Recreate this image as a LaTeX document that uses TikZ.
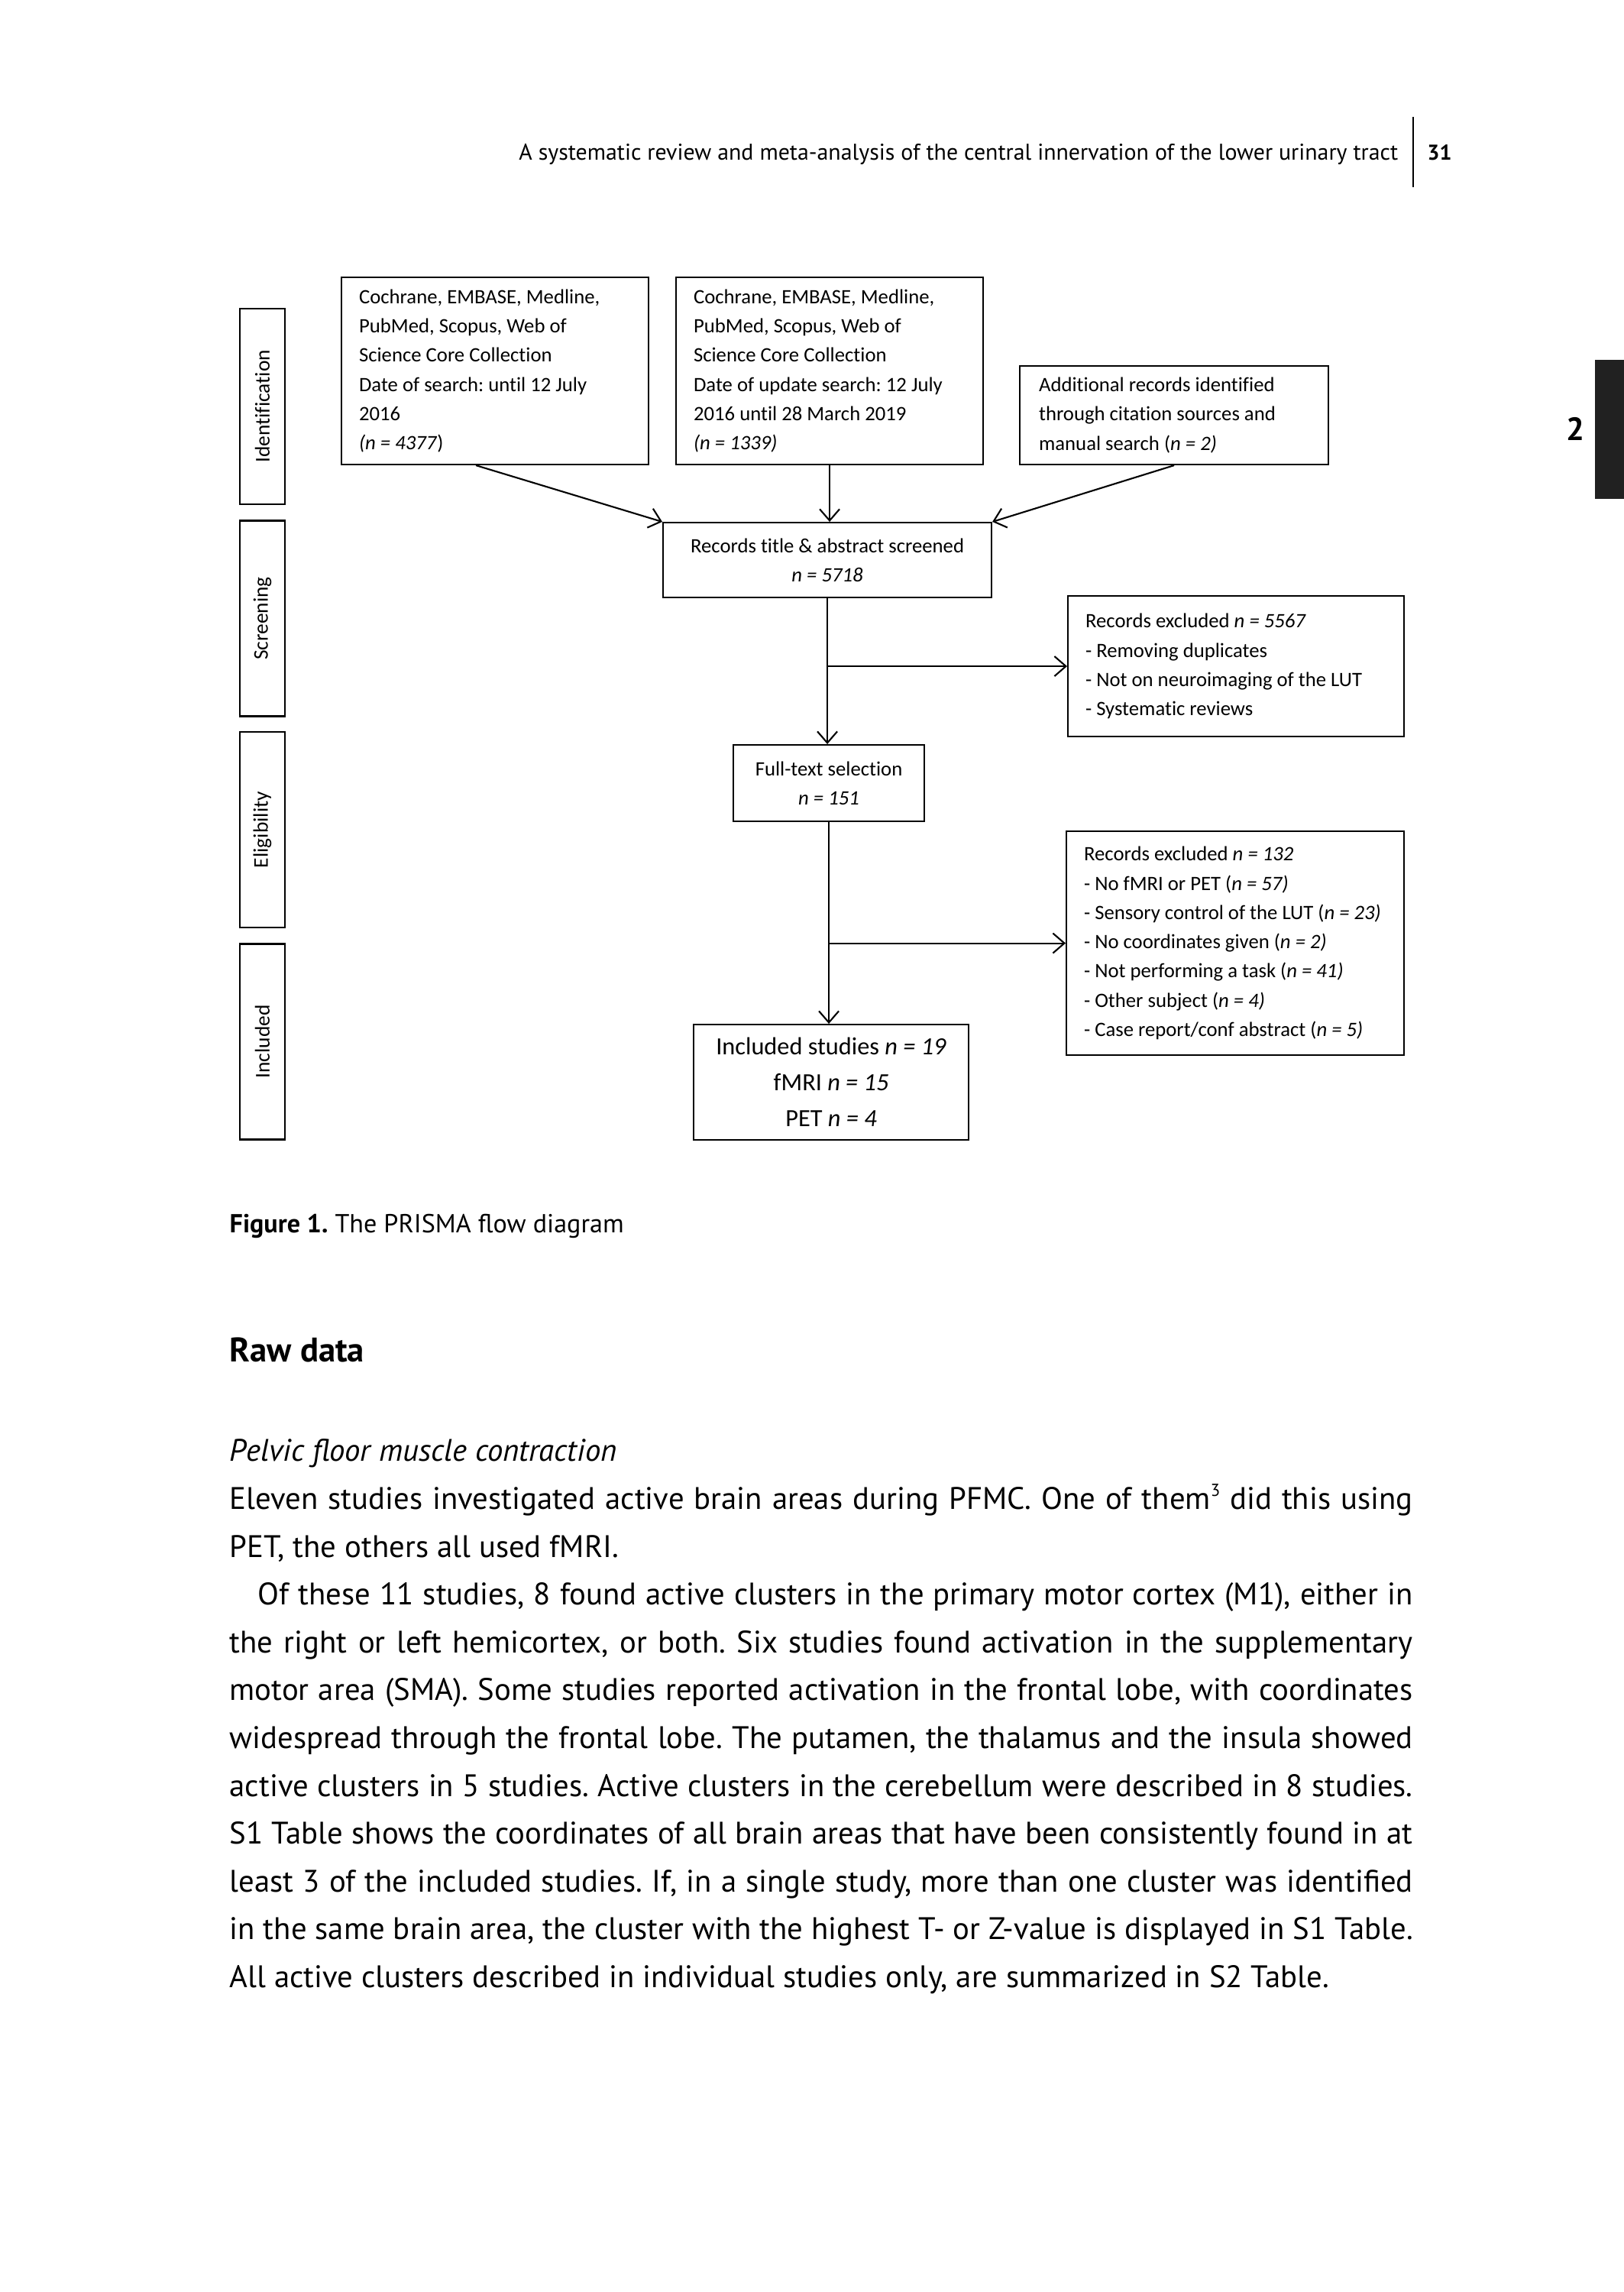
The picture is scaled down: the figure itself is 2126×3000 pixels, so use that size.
\documentclass[tikz,border=0pt]{standalone}
\usepackage{fontspec}
\setmainfont{PT Sans}
\newfontfamily\boxfont[Ligatures=NoCommon]{Carlito}
\usetikzlibrary{positioning, arrows.meta}
\newcommand{\fillline}[2][154.9mm]{\makebox[#1][s]{#2}}
\newcommand{\supnum}[1]{\raisebox{0.8ex}{\fontsize{6.5pt}{7pt}\selectfont #1}}
\frenchspacing

\begin{document}
\begin{tikzpicture}[
        x=0.1mm, y=-0.1mm,
        box/.style={draw, line width=0.6pt, inner ysep=0pt, inner xsep=2.3mm, font=\boxfont\fontsize{7.6pt}{3.83mm}\selectfont},
        lbox/.style={box, align=left, anchor=north west, execute at begin node={\spaceskip=0pt\xspaceskip=0pt}},
        cbox/.style={box, align=center, anchor=north west},
        stage/.style={draw, line width=0.6pt, rotate=90, minimum width=25.6mm, minimum height=5.9mm, inner sep=0pt, font=\boxfont\fontsize{7.8pt}{9pt}\selectfont},
        arr/.style={-{Straight Barb[length=1.5mm, width=2.6mm]}, line width=0.6pt},
        body/.style={anchor=base west, inner sep=0pt, font=\fontsize{11.6pt}{13pt}\selectfont}
    ]
    \fill[white] (0,0) rectangle (2126,3000);
    \useasboundingbox (0,0) rectangle (2126,3000);

    % Running head
    \node[anchor=base east, inner sep=0pt, font=\fontsize{8.5pt}{10pt}\selectfont] (head) at (1831,210) {A systematic review and meta-analysis of the central innervation of the lower urinary tract};
    \node[anchor=base west, inner sep=0pt, font=\bfseries\fontsize{8pt}{10pt}\selectfont] (page) at (1868,210) {31};
    \draw[line width=0.4pt] (1850,153) coordinate (rule top) -- (1850,245) coordinate (rule bottom);
    \fill[black!87] (2088,471) rectangle (2126,653);
    \node[anchor=base east, inner sep=0pt, font=\bfseries\fontsize{12pt}{14pt}\selectfont] (chapter) at (2075,577) {2};

    % Stages
    \node[stage] (ident) at (343.5,532) {Identification};
    \node[stage] (screen) at (343.5,809.5) {Screening};
    \node[stage] (elig) at (343.5,1086) {Eligibility};
    \node[stage] (incl) at (343.5,1363.5) {Included};

    % Identification
    \node[lbox, text width=35.6mm, minimum height=24.5mm] (db1) at (446,362) {Cochrane, EMBASE, Medline,\\PubMed, Scopus, Web of\\Science Core Collection\\Date of search: until 12 July\\2016\\\textit{(n = 4377})};
    \node[lbox, text width=35.6mm, minimum height=24.5mm] (db2) at (884,362) {Cochrane, EMBASE, Medline,\\PubMed, Scopus, Web of\\Science Core Collection\\Date of update search: 12 July\\2016 until 28 March 2019\\\textit{(n = 1339)}};
    \node[lbox, inner xsep=2.5mm, text width=35.4mm, minimum height=12.9mm] (extra) at (1334,478) {Additional records identified\\through citation sources and\\manual search (\textit{n = 2)}};

    % Screening
    \node[cbox, minimum width=43mm, minimum height=9.8mm] (screened) at (867,683) {Records title \& abstract screened\\\textit{n = 5718}};
    \node[lbox, text width=39.4mm, minimum height=18.4mm] (excl1) at (1397,779) {Records excluded \textit{n = 5567}\\- Removing duplicates\\- Not on neuroimaging of the LUT\\- Systematic reviews};

    % Eligibility
    \node[cbox, minimum width=25mm, minimum height=10mm] (fulltext) at (959,974) {Full-text selection\\\textit{n = 151}};
    \node[lbox, text width=39.6mm, minimum height=29.3mm] (excl2) at (1395,1087) {Records excluded \textit{n = 132}\\- No fMRI or PET (\textit{n = 57)}\\- Sensory control of the LUT (\textit{n = 23)}\\- No coordinates given (\textit{n = 2)}\\- Not performing a task (\textit{n = 41)}\\- Other subject (\textit{n = 4)}\\- Case report/conf abstract (\textit{n = 5)}};

    % Included
    \node[cbox, minimum width=36mm, minimum height=15.1mm, font=\boxfont\fontsize{9.2pt}{4.7mm}\selectfont] (included) at (907,1340) {Included studies \textit{n = 19}\\fMRI \textit{n = 15}\\PET \textit{n = 4}};

    \draw[arr] ([xshift=-2.5mm]db1.south) -- (screened.north west);
    \draw[arr] (db2.south) -- (db2.south |- screened.north);
    \draw[arr] (extra.south) -- (screened.north east);
    \draw[arr] (screened.south) -- (screened.south |- fulltext.north);
    \draw[arr] (screened.south |- excl1.west) -- (excl1.west);
    \draw[arr] (fulltext.south) -- (fulltext.south |- included.north);
    \draw[arr] (fulltext.south |- excl2.west) -- (excl2.west);

    % Caption and text
    \node[anchor=base west, inner sep=0pt, font=\fontsize{9.7pt}{11pt}\selectfont] (caption) at (300,1613) {\textbf{Figure 1.} The PRISMA flow diagram};
    \node[anchor=base west, inner sep=0pt, font=\bfseries\fontsize{12.7pt}{15pt}\selectfont] (section) at (300,1782) {Raw data};
    \node[body] (sub) at (300,1912) {\textit{Pelvic floor muscle contraction}};
    \node[body] (l1) at (300,1975) {\fillline{Eleven studies investigated active brain areas during PFMC. One of them\supnum{3} did this using}};
    \node[body] (l2) at (300,2038) {PET, the others all used fMRI.};
    \node[body] (l3) at (337,2100) {\fillline[151.2mm]{Of these 11 studies, 8 found active clusters in the primary motor cortex (M1), either in}};
    \node[body] (l4) at (300,2163) {\fillline{the right or left hemicortex, or both. Six studies found activation in the supplementary}};
    \node[body] (l5) at (300,2225) {\fillline{motor area (SMA). Some studies reported activation in the frontal lobe, with coordinates}};
    \node[body] (l6) at (300,2288) {\fillline{widespread through the frontal lobe. The putamen, the thalamus and the insula showed}};
    \node[body] (l7) at (300,2351) {\fillline{active clusters in 5 studies. Active clusters in the cerebellum were described in 8 studies.}};
    \node[body] (l8) at (300,2413) {\fillline{S1 Table shows the coordinates of all brain areas that have been consistently found in at}};
    \node[body] (l9) at (300,2476) {\fillline{least 3 of the included studies. If, in a single study, more than one cluster was identified}};
    \node[body] (l10) at (300,2538) {\fillline{in the same brain area, the cluster with the highest T- or Z-value is displayed in S1 Table.}};
    \node[body] (l11) at (300,2601) {All active clusters described in individual studies only, are summarized in S2 Table.};

\end{tikzpicture}
\end{document}
